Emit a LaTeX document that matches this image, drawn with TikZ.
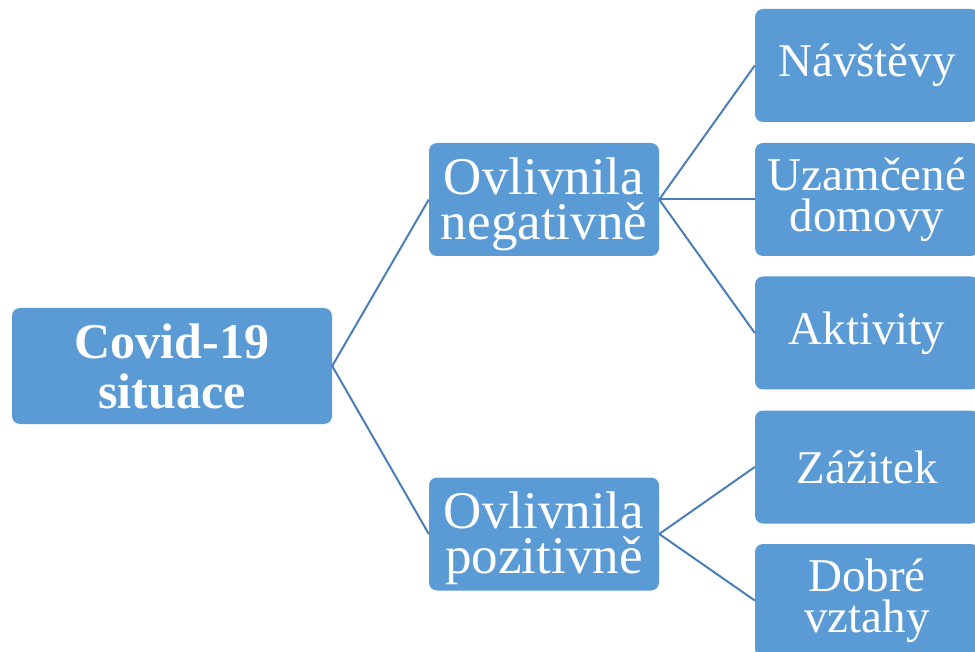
\documentclass[tikz,border=0pt]{standalone}
\usepackage{fontspec}
\setmainfont{Liberation Serif}
\definecolor{boxblue}{HTML}{5B9BD5}
\definecolor{lineblue}{HTML}{4A7EBB}
\begin{document}
\begin{tikzpicture}[x=1pt,y=-1pt,
	box/.style={rectangle,rounded corners=8pt,fill=boxblue,text=white,
		inner sep=0pt,align=center,minimum height=113pt},
	rootbox/.style={box,minimum width=320pt,minimum height=116pt,
		font={\fontsize{50}{50}\selectfont\bfseries\lineskiplimit-40pt}},
	midbox/.style={box,minimum width=230pt,
		font={\fontsize{53}{45}\selectfont\lineskiplimit-40pt}},
	leafbox/.style={box,minimum width=224pt,
		font={\fontsize{47}{41}\selectfont\lineskiplimit-40pt}},
	link/.style={draw=lineblue,line width=2pt}]
	
	\useasboundingbox (0,0) rectangle (975,652);
	\clip (0,0) rectangle (975,652);
	
	\node[rootbox] (covid) at (172,366) {Covid-19\\situace};
	
	\node[midbox] (neg) at (544,199.5) {\rule{0pt}{46pt}Ovlivnila\\negativně};
	\node[midbox] (pos) at (544,534) {\rule{0pt}{46pt}Ovlivnila\\pozitivně};
	
	\node[leafbox] (visits) at (867,65.5)  {Návštěvy};
	\node[leafbox] (homes)  at (867,199.5) {Uzamčené\\domovy};
	\node[leafbox] (acts)   at (867,333)   {Aktivity};
	\node[leafbox] (exper)  at (867,467)   {Zážitek};
	\node[leafbox] (rel)    at (867,600.5) {Dobré\\vztahy};
	
	\draw[link] (covid.east) -- (neg.west);
	\draw[link] (covid.east) -- (pos.west);
	
	\draw[link] (neg.east) -- (visits.west);
	\draw[link] (neg.east) -- (homes.west);
	\draw[link] (neg.east) -- (acts.west);
	
	\draw[link] (pos.east) -- (exper.west);
	\draw[link] (pos.east) -- (rel.west);
	
\end{tikzpicture}
\end{document}
